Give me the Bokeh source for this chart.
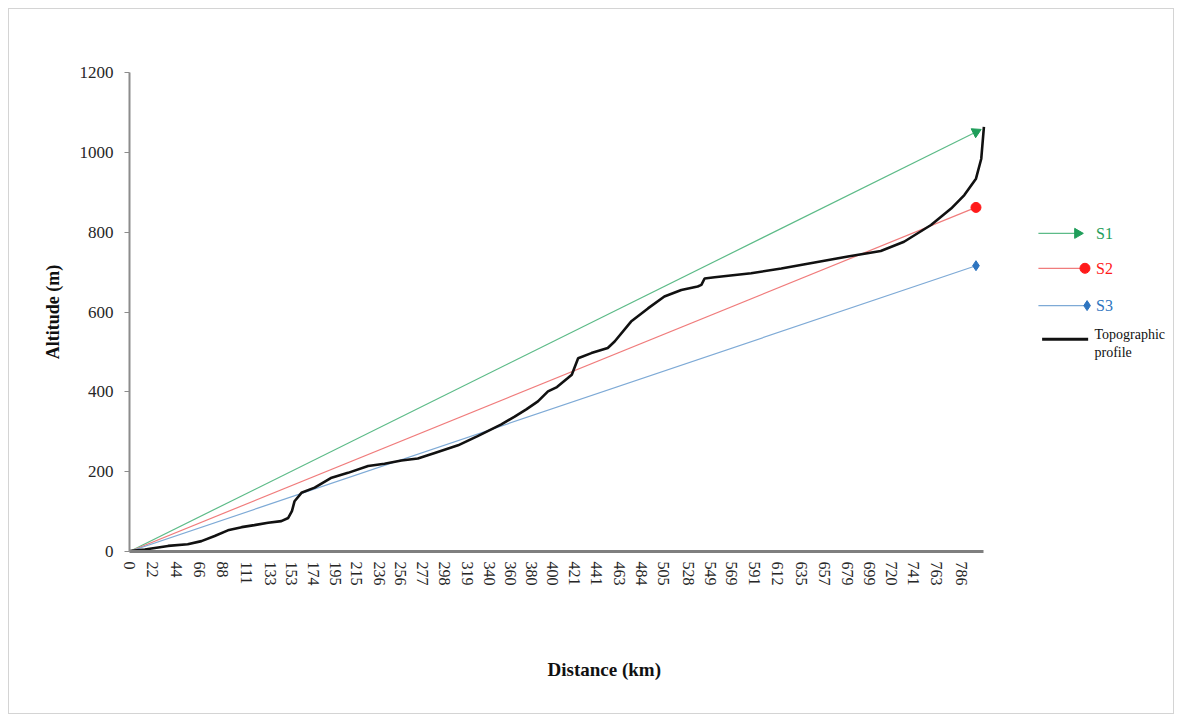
import math
from bokeh.plotting import figure
from bokeh.models import Range1d, FixedTicker, Title, LinearAxis
from bokeh.core.properties import value
from bokeh.embed import file_html
from bokeh.resources import INLINE

# ---------------- data ----------------
X_TICKS = [0, 22, 44, 66, 88, 111, 133, 153, 174, 195, 215, 236, 256, 277, 298, 319,
           340, 360, 380, 400, 421, 441, 463, 484, 505, 528, 549, 569, 591, 612, 635,
           657, 679, 699, 720, 741, 763, 786]
Y_TICKS = [0, 200, 400, 600, 800, 1000, 1200]

# straight scenarios S1, S2, S3 : start and end (distance km, altitude m)
s_dist = [0, 800]
s1_alt = [0, 1051]
s2_alt = [0, 862]
s3_alt = [0, 716]

# topographic profile
topo_dist = [0, 14.5, 36.5, 55, 68, 80.5, 93, 106, 118, 131, 143.5, 150, 153.5, 156,
             162.5, 175, 191, 206.5, 225.5, 241, 257, 272.5, 288.5, 310.5, 329, 351,
             364, 375, 386, 395.5, 404, 414, 418, 424, 436.5, 452, 458.5, 474, 490,
             505.5, 521.5, 537, 540.5, 543.5, 553, 587.5, 616, 647.5, 679, 710, 732,
             757.5, 776.5, 789, 800, 805, 807.5]
topo_alt = [1, 5, 14, 18, 26, 39, 53, 61, 66, 72, 76, 84, 101, 126,
            147, 160, 185, 197, 214, 220, 228, 233, 247, 266, 289, 318,
            338, 356, 376, 401, 412, 434, 443, 484, 497, 510, 526, 576, 609,
            639, 655, 664, 668, 684, 687, 697, 709, 724, 739, 753, 776,
            818, 859, 893, 934, 984, 1064]

series_names = ["S1", "S2", "S3", "Topographic", "profile"]

# ---------------- styles ----------------
SERIF = "Liberation Serif"
C1_LINE, C1_MARK = "#5dbb88", "#1f9e5a"
C2_LINE, C2_MARK = "#f07c7c", "#ff1a1a"
C3_LINE, C3_MARK = "#7eaad6", "#2e75c0"
TOPO = "#111111"

p = figure(width=1166, height=706, output_backend="svg", toolbar_location=None,
           x_range=Range1d(0, 981), y_range=Range1d(0, 1200),
           min_border_left=120, min_border_right=8, min_border_top=63,
           min_border_bottom=164)
p.styles = {"border": "1px solid #d4d4d4", "box-sizing": "border-box",
            "margin-left": "8px", "margin-top": "8px"}
p.outline_line_color = None
p.grid.visible = False
p.background_fill_color = "white"
p.border_fill_color = "white"

# x axis
xa = p.xaxis[0]
xa.ticker = FixedTicker(ticks=X_TICKS)
xa.bounds = (0, 807.5)
xa.axis_line_color = "#7f7f7f"
xa.axis_line_width = 3
xa.major_tick_line_color = None
xa.minor_tick_line_color = None
xa.major_tick_out = 0
xa.major_tick_in = 0
xa.major_label_standoff = 10
xa.major_label_orientation = "vertical"
xa.major_label_text_font = SERIF
xa.major_label_text_font_size = "16px"
xa.major_label_text_color = "#262626"

# blank spacer axis: one white tick in the empty corner reserves room above the title
spacer = LinearAxis(ticker=FixedTicker(ticks=[950]), axis_line_color=None,
                    major_tick_line_color="white", minor_tick_line_color=None,
                    major_tick_out=40, major_tick_in=0, minor_tick_out=0,
                    minor_tick_in=0, major_label_standoff=0,
                    major_label_overrides={950: ""})
p.add_layout(spacer, "below")

# y axis
ya = p.yaxis[0]
ya.ticker = FixedTicker(ticks=Y_TICKS)
ya.axis_line_color = "#8c8c8c"
ya.axis_line_width = 2
ya.major_tick_line_color = "#8c8c8c"
ya.major_tick_out = 5
ya.major_tick_in = 0
ya.minor_tick_line_color = None
ya.major_label_standoff = 11
ya.major_label_text_font = SERIF
ya.major_label_text_font_size = "17px"
ya.major_label_text_color = "#262626"
ya.axis_label = "Altitude (m)"
ya.axis_label_text_font = SERIF
ya.axis_label_text_font_size = "18px"
ya.axis_label_text_font_style = "bold"
ya.axis_label_text_color = "#111111"
ya.axis_label_standoff = 14

p.add_layout(Title(text="Distance (km)", align="left", offset=418, standoff=56,
                   text_font=SERIF, text_font_size="19px", text_font_style="bold",
                   text_color="#111111"), "below")

# ---------------- data marks ----------------
p.line(s_dist, s1_alt, line_color=C1_LINE, line_width=1.2)
p.line(s_dist, s2_alt, line_color=C2_LINE, line_width=1.2)
p.line(s_dist, s3_alt, line_color=C3_LINE, line_width=1.2)
p.line(topo_dist, topo_alt, line_color=TOPO, line_width=2.6)

# end markers
ang = math.atan2(s1_alt[-1] * 0.4, s_dist[-1] * 1.0585) - math.pi / 2
p.scatter([s_dist[-1]], [s1_alt[-1]], marker="triangle", size=10, angle=ang,
          fill_color=C1_MARK, line_color=C1_MARK)
p.scatter([s_dist[-1]], [s2_alt[-1]], marker="circle", size=10,
          fill_color=C2_MARK, line_color=C2_MARK)
p.scatter([s_dist[-1]], [s3_alt[-1]], marker="diamond", size=10,
          fill_color=C3_MARK, line_color=C3_MARK)

# ---------------- legend (drawn at the right of the axis) ----------------
LX0 = 859
LEG_Y = [797, 709.5, 616, 532]
p.line([LX0, 895], [LEG_Y[0]] * 2, line_color=C1_LINE, line_width=1.2)
p.scatter([896], [LEG_Y[0]], marker="triangle", size=10, angle=-math.pi / 2,
          fill_color=C1_MARK, line_color=C1_MARK)
p.line([LX0, 903], [LEG_Y[1]] * 2, line_color=C2_LINE, line_width=1.2)
p.scatter([903], [LEG_Y[1]], marker="circle", size=10,
          fill_color=C2_MARK, line_color=C2_MARK)
p.line([LX0, 905], [LEG_Y[2]] * 2, line_color=C3_LINE, line_width=1.2)
p.scatter([905], [LEG_Y[2]], marker="diamond", size=10,
          fill_color=C3_MARK, line_color=C3_MARK)
p.line([862.5, 906], [LEG_Y[3]] * 2, line_color=TOPO, line_width=3)

TX = 913.5
for name, y, col in zip(series_names[:3], LEG_Y[:3], [C1_MARK, C2_MARK, C3_MARK]):
    p.text([TX], [y], text=[name], text_color=col, text_font=value(SERIF),
           text_font_size="16px", text_baseline="middle", text_align="left")
p.text([912], [544], text=[series_names[3]], text_color="#111111",
       text_font=value(SERIF), text_font_size="14px", text_baseline="middle")
p.text([912], [498], text=[series_names[4]], text_color="#111111",
       text_font=value(SERIF), text_font_size="14px", text_baseline="middle")

open("out.html", "w").write(file_html(p, INLINE))
